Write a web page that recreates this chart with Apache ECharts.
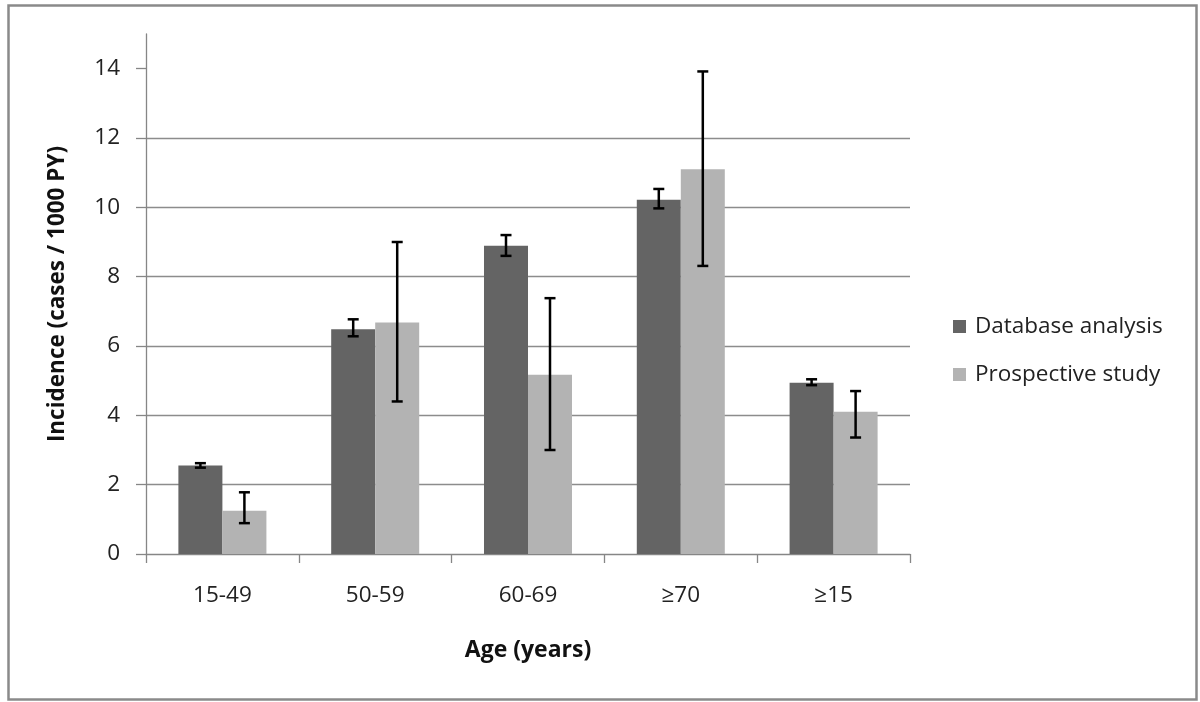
<!DOCTYPE html>
<html>
<head>
<meta charset="utf-8">
<script src="https://cdn.jsdelivr.net/npm/echarts@6/dist/echarts.min.js"></script>
<style>html,body{margin:0;padding:0;background:#fff}#c{width:1200px;height:702px}</style>
</head>
<body>
<div id="c"></div>
<script>
const categories = ['15-49', '50-59', '60-69', '\u226570', '\u226515'];
const seriesNames = ['Database analysis', 'Prospective study'];
const databaseValues = [2.55, 6.48, 8.89, 10.22, 4.94];
const databaseLow = [2.49, 6.28, 8.60, 9.97, 4.87];
const databaseHigh = [2.62, 6.77, 9.20, 10.53, 5.04];
const prospectiveValues = [1.25, 6.68, 5.17, 11.10, 4.10];
const prospectiveLow = [0.89, 4.40, 3.00, 8.31, 3.36];
const prospectiveHigh = [1.78, 9.00, 7.38, 13.92, 4.70];
const yTicks = [0, 2, 4, 6, 8, 10, 12, 14];

const FONT = 'Open Sans';
const FS = 22.5;
const barFrac = 0.288;

function errSeries(name, low, high, side) {
  return {
    type: 'custom',
    name: name + ' error',
    z: 10,
    silent: true,
    encode: { x: 0, y: [1, 2] },
    data: low.map((l, i) => [i, l, high[i]]),
    renderItem: function (params, api) {
      const i = api.value(0);
      const band = api.size([1, 0])[0];
      const top = api.coord([i, api.value(2)]);
      const bot = api.coord([i, api.value(1)]);
      const x = top[0] + side * band * barFrac / 2;
      const cap = 5.5;
      const st = { stroke: '#000', lineWidth: 2.5 };
      return {
        type: 'group',
        children: [
          { type: 'line', shape: { x1: x, y1: top[1], x2: x, y2: bot[1] }, style: st },
          { type: 'line', shape: { x1: x - cap, y1: top[1], x2: x + cap, y2: top[1] }, style: st },
          { type: 'line', shape: { x1: x - cap, y1: bot[1], x2: x + cap, y2: bot[1] }, style: st }
        ]
      };
    }
  };
}

const chart = echarts.init(document.getElementById('c'), null, { renderer: 'canvas' });
chart.setOption({
  animation: false,
  backgroundColor: '#fff',
  textStyle: { fontFamily: FONT },
  graphic: [{
    type: 'rect', left: 6, top: 3, shape: { width: 1188, height: 694 },
    style: { fill: 'none', stroke: '#8a8a8a', lineWidth: 2.5 }, silent: true
  }],
  grid: { left: 146, right: 290, top: 34, bottom: 148, containLabel: false },
  legend: {
    orient: 'vertical',
    left: 953,
    top: 314,
    padding: 0,
    itemWidth: 13,
    itemHeight: 13,
    itemGap: 23,
    icon: 'rect',
    data: seriesNames,
    textStyle: { fontFamily: FONT, fontSize: FS, color: '#222', lineHeight: 25, padding: [0, 0, 0, 4] }
  },
  xAxis: {
    type: 'category',
    data: categories,
    boundaryGap: true,
    name: 'Age (years)',
    nameLocation: 'middle',
    nameGap: 85,
    nameTextStyle: { fontFamily: FONT, fontSize: 23, fontWeight: 'bold', color: '#111' },
    axisLine: { show: true, lineStyle: { color: '#868686', width: 1.3 } },
    axisTick: { show: true, alignWithLabel: false, length: 9, lineStyle: { color: '#868686', width: 1.3 } },
    axisLabel: { fontFamily: FONT, fontSize: FS, color: '#222', margin: 30 },
    splitLine: { show: false }
  },
  yAxis: {
    type: 'value',
    min: 0,
    max: 15,
    interval: 1,
    name: 'Incidence (cases / 1000 PY)',
    nameLocation: 'middle',
    nameGap: 77,
    nameRotate: 90,
    nameTextStyle: { fontFamily: FONT, fontSize: 22.5, fontWeight: 'bold', color: '#111' },
    axisLine: { show: true, lineStyle: { color: '#868686', width: 1.3 } },
    axisTick: { show: true, length: 10, customValues: yTicks, lineStyle: { color: '#868686', width: 1.3 } },
    axisLabel: { fontFamily: FONT, fontSize: FS, color: '#222', margin: 26, customValues: yTicks },
    splitLine: { show: true, showMinLine: false, showMaxLine: false, lineStyle: { color: '#8c8c8c', width: 1.3 } }
  },
  series: [
    {
      name: seriesNames[0], type: 'bar', data: databaseValues,
      barWidth: (barFrac * 100) + '%', barGap: '0%',
      itemStyle: { color: '#646464' }
    },
    {
      name: seriesNames[1], type: 'bar', data: prospectiveValues,
      barWidth: (barFrac * 100) + '%', barGap: '0%',
      itemStyle: { color: '#b3b3b3' }
    },
    errSeries(seriesNames[0], databaseLow, databaseHigh, -1),
    errSeries(seriesNames[1], prospectiveLow, prospectiveHigh, 1)
  ]
});
</script>
</body>
</html>
